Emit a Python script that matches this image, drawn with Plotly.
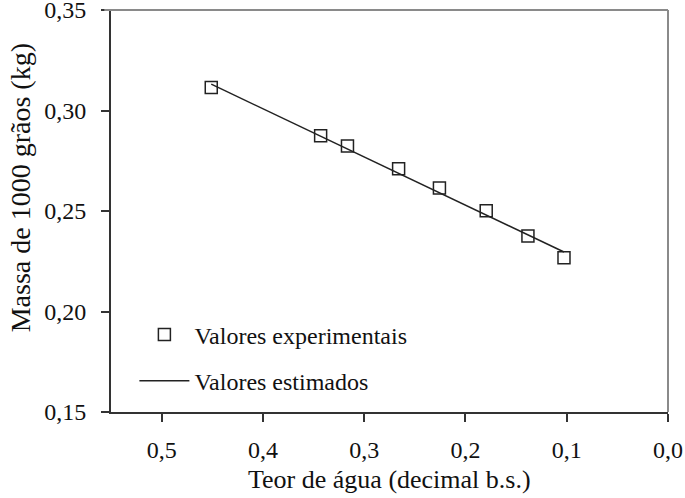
import plotly.graph_objects as go

# Data
teor_agua = [0.451, 0.343, 0.3165, 0.266, 0.2257, 0.1795, 0.1383, 0.1027]
massa_exp = [0.3115, 0.2874, 0.2823, 0.2710, 0.2615, 0.2501, 0.2375, 0.2268]
massa_est = [0.3131, 0.2872, 0.2808, 0.2687, 0.2591, 0.2480, 0.2381, 0.2296]

x_ticks = [0.5, 0.4, 0.3, 0.2, 0.1, 0.0]
y_ticks = [0.15, 0.20, 0.25, 0.30, 0.35]

FONT = "Liberation Serif, Times New Roman, serif"
AX = "#333333"
FRAME = "#8a8a8a"

fig = go.Figure()
fig.add_trace(go.Scatter(
    x=teor_agua, y=massa_est, mode="lines", name="Valores estimados",
    line=dict(color="#222222", width=1.5), legend="legend2"))
fig.add_trace(go.Scatter(
    x=teor_agua, y=massa_exp, mode="markers", name="Valores experimentais",
    marker=dict(symbol="square-open", size=12, color="#222222",
                line=dict(width=1.5, color="#222222")),
    legend="legend"))

fig.update_layout(
    template="none",
    width=685, height=498,
    margin=dict(l=111, r=17, t=10, b=86, autoexpand=False),
    paper_bgcolor="white", plot_bgcolor="white",
    separators=",.",
    font=dict(family=FONT, size=24, color="#111111"),
    showlegend=True,
    legend=dict(x=0.042, y=0.1915, xanchor="left", yanchor="middle",
                itemwidth=50,
                bgcolor="rgba(0,0,0,0)", font=dict(size=24, family=FONT)),
    legend2=dict(x=0.042, y=0.077, xanchor="left", yanchor="middle",
                 itemwidth=50,
                 bgcolor="rgba(0,0,0,0)", font=dict(size=24, family=FONT)),
    xaxis=dict(range=[0.55, 0.0], tickvals=x_ticks, tickformat=".1f",
               automargin=False, ticklabeloverflow="allow",
               showgrid=False, zeroline=False, showline=True, linecolor=AX,
               linewidth=2, mirror=False, ticks="outside", ticklen=8,
               tickcolor=AX, tickwidth=1.5, ticklabelstandoff=7,
               tickfont=dict(size=24, family=FONT)),
    yaxis=dict(range=[0.15, 0.35], tickvals=y_ticks, tickformat=".2f",
               automargin=False, ticklabeloverflow="allow",
               showgrid=False, zeroline=False, showline=True, linecolor=AX,
               linewidth=2, mirror=False, ticks="outside", ticklen=8,
               tickcolor=AX, tickwidth=1.5, ticklabelstandoff=10,
               tickfont=dict(size=24, family=FONT)),
    shapes=[
        dict(type="line", xref="paper", yref="paper", x0=-0.012, x1=1.0,
             y0=1, y1=1, line=dict(color=FRAME, width=2)),
        dict(type="line", xref="paper", yref="paper", x0=1, x1=1,
             y0=0, y1=1, line=dict(color=FRAME, width=2)),
    ],
    annotations=[
        dict(text="Teor de água (decimal b.s.)", xref="paper", yref="paper",
             x=0.5, y=-0.169, xanchor="center", yanchor="middle",
             showarrow=False, font=dict(size=26, family=FONT)),
        dict(text="Massa de 1000 grãos (kg)", xref="paper", yref="paper",
             x=-0.163, y=0.557, xanchor="center", yanchor="middle",
             textangle=-90, showarrow=False, font=dict(size=28, family=FONT)),
    ],
)

fig.write_html(
    "out.html",
    config={"displayModeBar": False},
    post_script="document.body.style.margin='0';document.body.style.overflow='hidden';",
)
